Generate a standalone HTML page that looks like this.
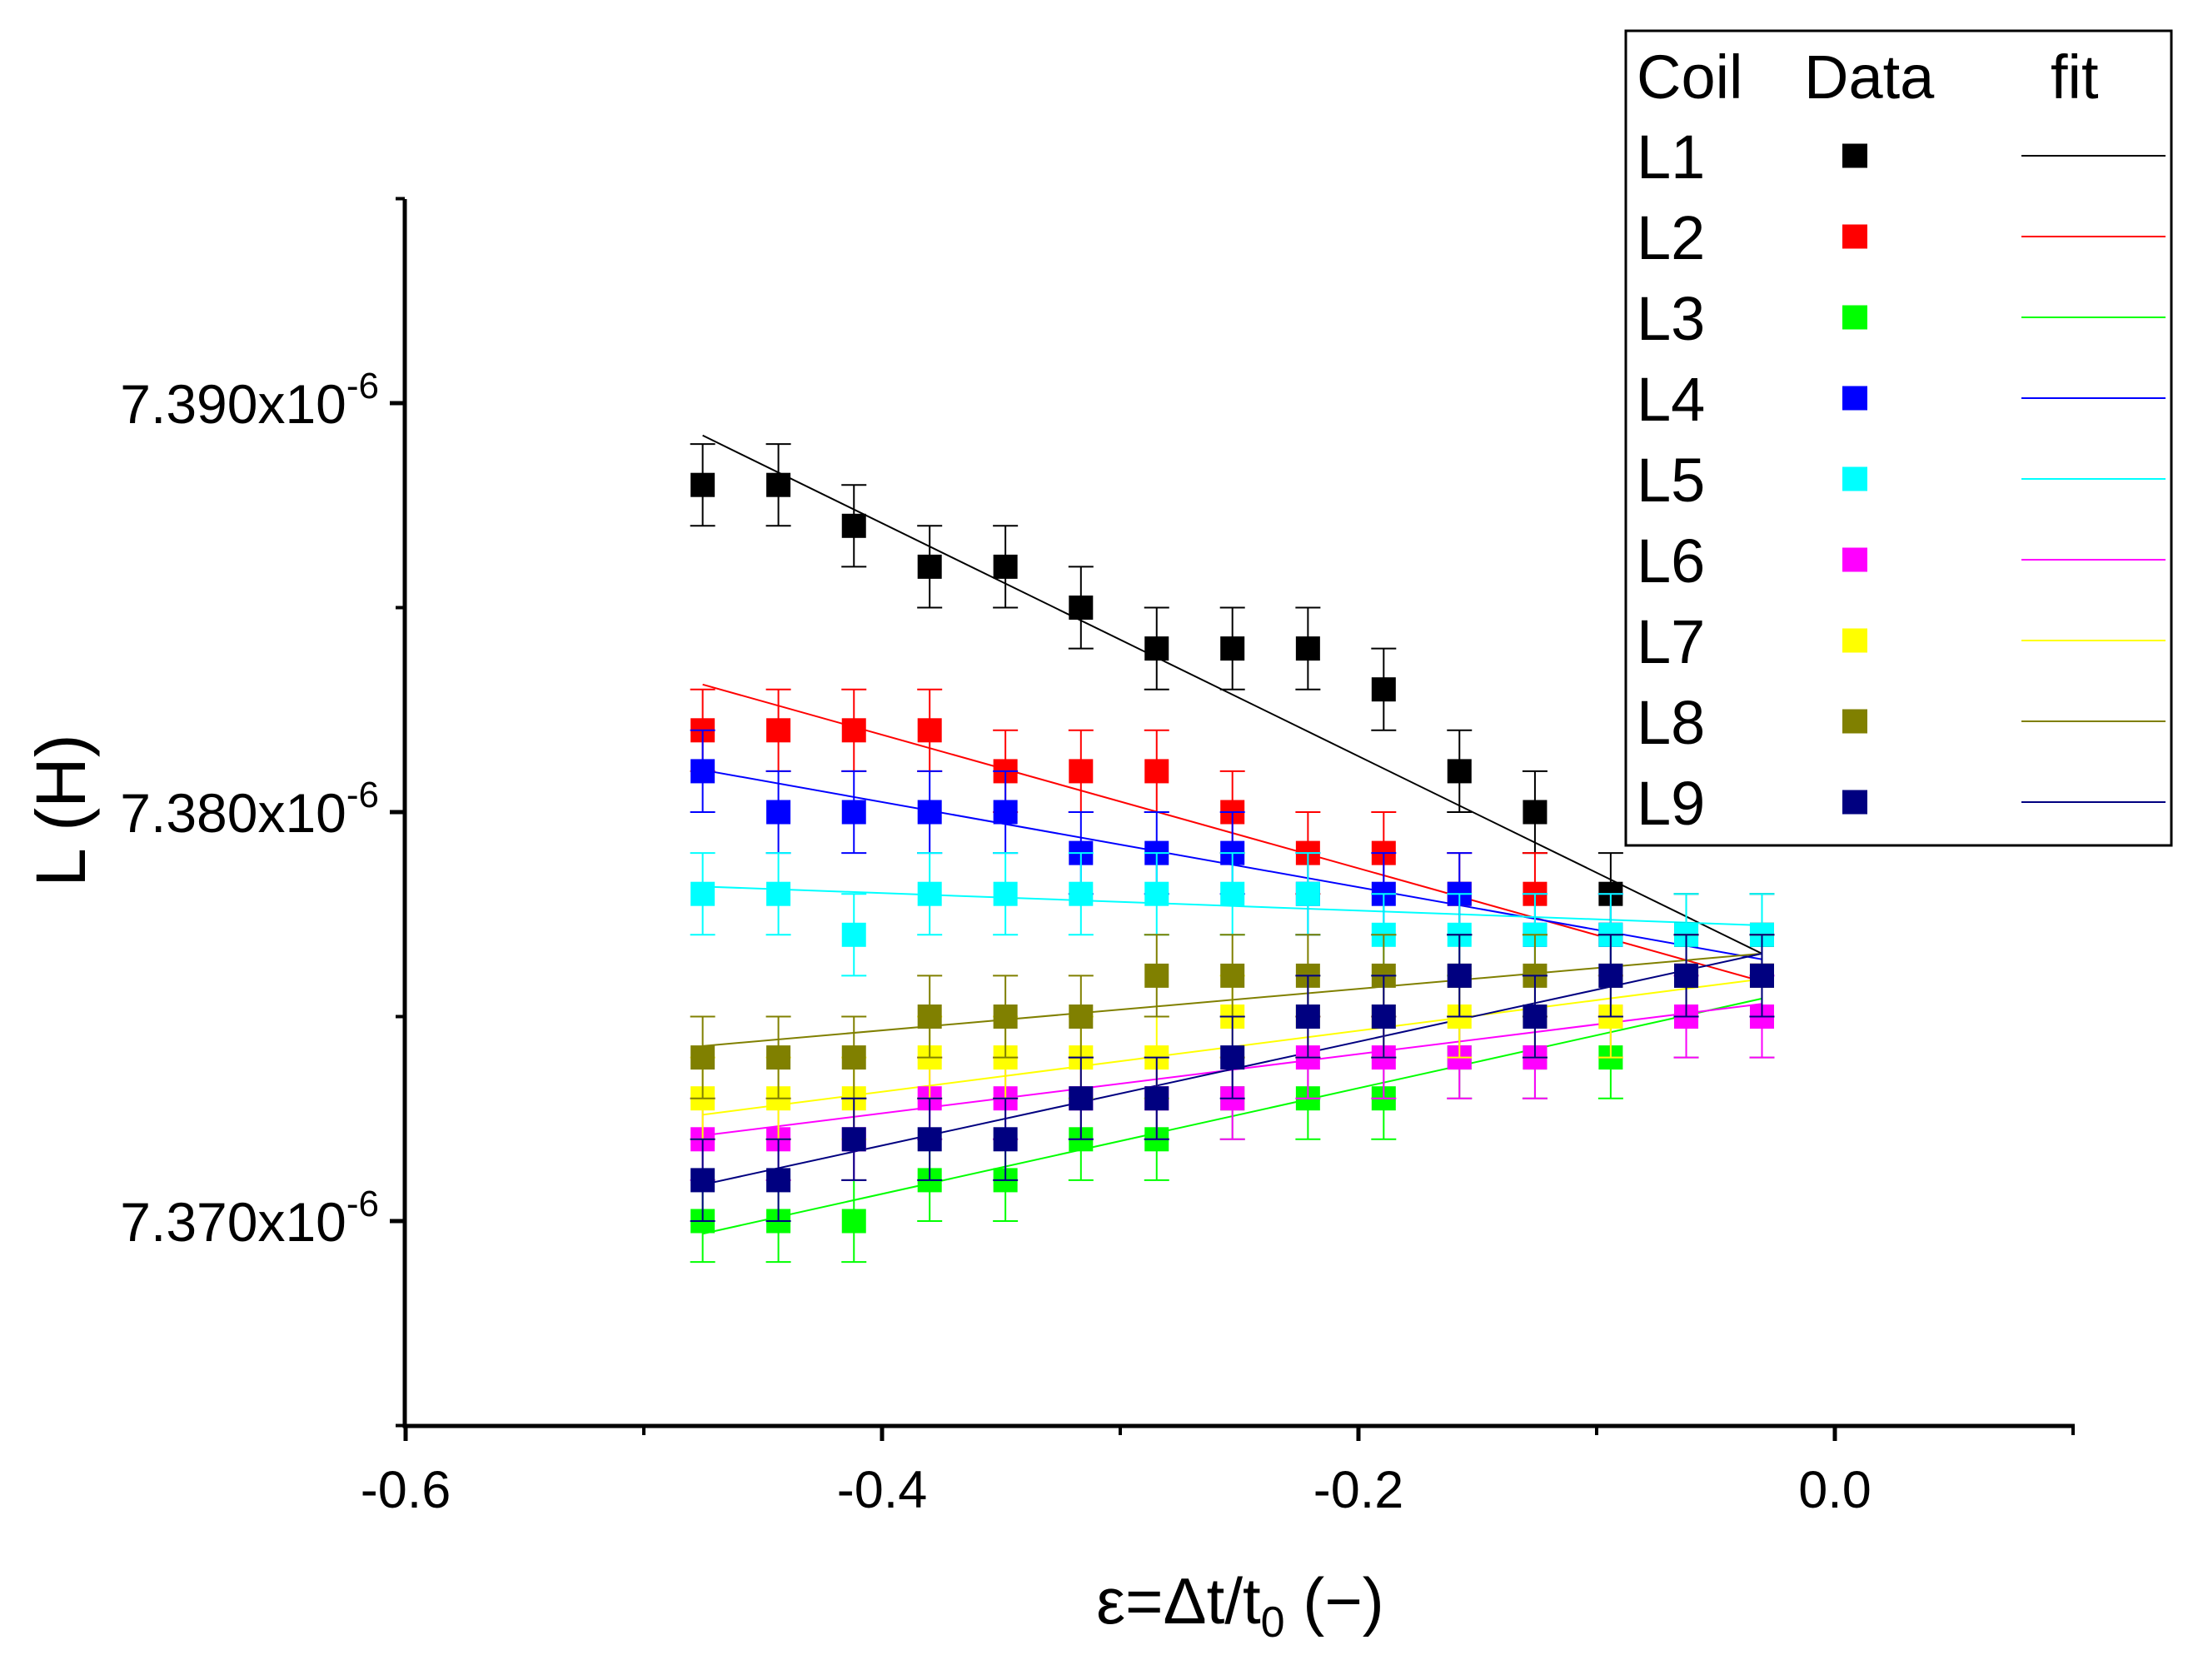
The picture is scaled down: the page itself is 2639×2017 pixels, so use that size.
<!DOCTYPE html>
<html><head><meta charset="utf-8"><style>
html,body{margin:0;padding:0;background:#fff}
svg{display:block;font-family:"Liberation Sans",Arial,sans-serif}
</style></head><body>
<svg id="chart" width="2639" height="2017" viewBox="0 0 2639 2017">
<g id="plot"></g>
<g id="axes"></g>
<text x="1489" y="1949" font-size="78" text-anchor="middle">ε=Δt/t<tspan font-size="52" dy="16">0</tspan><tspan dy="-16"> (−)</tspan></text>
<text transform="translate(102,973) rotate(-90)" font-size="84" text-anchor="middle">L (H)</text>
<g id="legend"></g>
</svg>
<script>
const NS='http://www.w3.org/2000/svg';
const xValues=[-0.4753,-0.4435,-0.4118,-0.3800,-0.3482,-0.3165,-0.2847,-0.2529,-0.2212,-0.1894,-0.1576,-0.1259,-0.0941,-0.0624,-0.0306];
const seriesNames=['L1','L2','L3','L4','L5','L6','L7','L8','L9'];
const seriesColors=['#000000','#ff0000','#00ff00','#0000ff','#00ffff','#ff00ff','#ffff00','#808000','#000080'];
const L1=[7.388,7.388,7.387,7.386,7.386,7.385,7.384,7.384,7.384,7.383,7.381,7.380,7.378,7.377,7.377];
const L2=[7.382,7.382,7.382,7.382,7.381,7.381,7.381,7.380,7.379,7.379,7.378,7.378,7.377,7.376,7.376];
const L3=[7.370,7.370,7.370,7.371,7.371,7.372,7.372,7.373,7.373,7.373,7.374,7.374,7.374,7.375,7.375];
const L4=[7.381,7.380,7.380,7.380,7.380,7.379,7.379,7.379,7.378,7.378,7.378,7.377,7.377,7.376,7.376];
const L5=[7.378,7.378,7.377,7.378,7.378,7.378,7.378,7.378,7.378,7.377,7.377,7.377,7.377,7.377,7.377];
const L6=[7.372,7.372,7.372,7.373,7.373,7.373,7.373,7.373,7.374,7.374,7.374,7.374,7.375,7.375,7.375];
const L7=[7.373,7.373,7.373,7.374,7.374,7.374,7.374,7.375,7.375,7.375,7.375,7.375,7.375,7.376,7.376];
const L8=[7.374,7.374,7.374,7.375,7.375,7.375,7.376,7.376,7.376,7.376,7.376,7.376,7.376,7.376,7.376];
const L9=[7.371,7.371,7.372,7.372,7.372,7.373,7.373,7.374,7.375,7.375,7.376,7.375,7.376,7.376,7.376];
const seriesValues=[L1,L2,L3,L4,L5,L6,L7,L8,L9];
const fitStart=[7.38921,7.38312,7.36969,7.38103,7.37818,7.37209,7.3726,7.37428,7.37089];
const fitEnd=[7.37654,7.37586,7.37544,7.37640,7.37723,7.37531,7.37592,7.37654,7.37654];
const errVal=0.001;
const xTicks=[-0.6,-0.4,-0.2,0.0];
const xTickLabels=['-0.6','-0.4','-0.2','0.0'];
const xMinor=[-0.5,-0.3,-0.1,0.1];
const yTicks=[7.390,7.380,7.370];
const yTickLabels=['7.390x10','7.380x10','7.370x10'];
const yMinor=[7.395,7.385,7.375,7.365];

const X0=486,X1=2491,Y0=1712,Y1=239;
const xs=v=>2203+v/0.2*572;
const ys=v=>1466-(v-7.370)/0.01*491;
function el(tag,attrs,parent){const e=document.createElementNS(NS,tag);for(const k in attrs)e.setAttribute(k,attrs[k]);parent.appendChild(e);return e;}
const plot=document.getElementById('plot'),axes=document.getElementById('axes'),leg=document.getElementById('legend');

seriesNames.forEach((n,i)=>{
  const l=el('line',{x1:xs(xValues[0]),y1:ys(fitStart[i]),x2:xs(xValues[xValues.length-1]),y2:ys(fitEnd[i]),stroke:seriesColors[i],'stroke-width':2},plot);
  
  
});
seriesNames.forEach((n,i)=>{
  const g=el('g',{},plot);
  
  
  seriesValues[i].forEach((v,j)=>{
    const cx=xs(xValues[j]),cy=ys(v);
    const r=el('rect',{x:cx-14.5,y:cy-14.5,width:29,height:29,fill:seriesColors[i]},g);
    
    
    const yt=ys(v+errVal),yb=ys(v-errVal);
    const e=el('path',{d:`M${cx},${yt}V${yb}M${cx-15},${yt}H${cx+15}M${cx-15},${yb}H${cx+15}`,stroke:seriesColors[i],'stroke-width':2,fill:'none'},g);
    
    
  });
});
el('path',{d:`M${X0},${Y1}V${Y0}H${X1}`,stroke:'#000','stroke-width':5,fill:'none'},axes);
xTicks.forEach((t,i)=>{
  el('line',{x1:xs(t),y1:Y0,x2:xs(t),y2:Y0+18,stroke:'#000','stroke-width':5},axes);
  const tx=el('text',{x:xs(t),y:1810,'font-size':63,'text-anchor':'middle'},axes);
  tx.textContent=xTickLabels[i];
  
  
});
xMinor.forEach(t=>el('line',{x1:xs(t),y1:Y0,x2:xs(t),y2:Y0+11,stroke:'#000','stroke-width':4},axes));
yTicks.forEach((t,i)=>{
  el('line',{x1:X0,y1:ys(t),x2:X0-18,y2:ys(t),stroke:'#000','stroke-width':5},axes);
  const tx=el('text',{x:455,y:ys(t)+24,'font-size':66,'text-anchor':'end'},axes);
  tx.innerHTML=yTickLabels[i]+'<tspan font-size="44" dy="-30">-6</tspan>';
  
  
});
yMinor.forEach(t=>el('line',{x1:X0,y1:ys(t),x2:X0-11,y2:ys(t),stroke:'#000','stroke-width':4},axes));

el('rect',{x:1952,y:37,width:655,height:978,fill:'#fff',stroke:'#000','stroke-width':3},leg);
[['Coil',1965],['Data',2166],['fit',2462]].forEach(([t,x])=>{
  const tx=el('text',{x:x,y:118,'font-size':74},leg);tx.textContent=t;
  
  
});
seriesNames.forEach((n,i)=>{
  const cy=187+i*97;
  const g=el('g',{},leg);
  
  
  const tx=el('text',{x:1965,y:cy+27,'font-size':74},g);tx.textContent=n;
  el('rect',{x:2212,y:cy-14.5,width:30,height:29,fill:seriesColors[i]},g);
  el('line',{x1:2427,y1:cy,x2:2600,y2:cy,stroke:seriesColors[i],'stroke-width':2},g);
});
</script>
</body></html>
